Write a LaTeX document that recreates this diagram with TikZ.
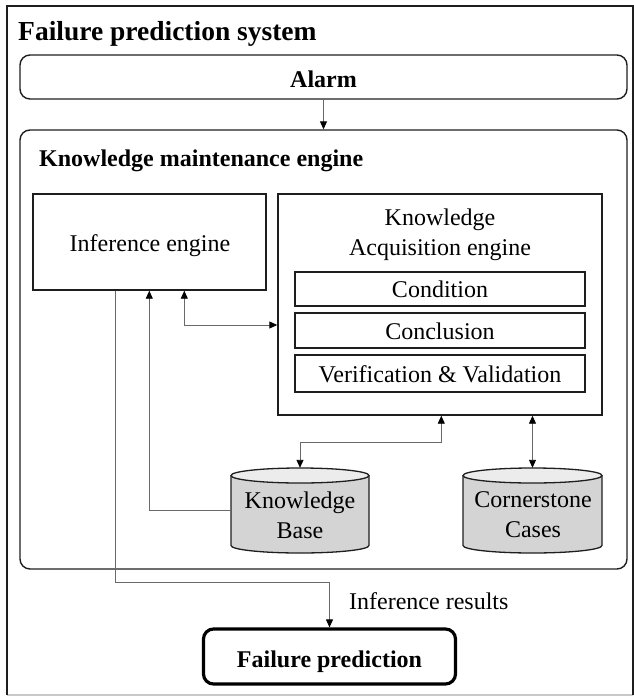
\documentclass[tikz,border=0pt]{standalone}
\usepackage{fontspec}
\setmainfont{Liberation Serif}
\usetikzlibrary{arrows.meta,calc}
\definecolor{connc}{RGB}{105,105,105}
\definecolor{edgec}{RGB}{30,30,30}
\definecolor{cylbody}{RGB}{212,212,212}
\definecolor{cyltop}{RGB}{236,236,236}
\definecolor{framebot}{RGB}{200,200,200}
\begin{document}
\begin{tikzpicture}[x=1pt,y=-1pt,
  txt/.style={font=\fontsize{24}{30}\selectfont, inner sep=0pt},
  btxt/.style={font=\bfseries\fontsize{24}{30}\selectfont, inner sep=0pt},
  rbox/.style={draw=edgec, line width=1.4pt, rounded corners=10pt, inner sep=0pt},
  sbox/.style={draw=edgec, line width=1.4pt, inner sep=0pt},
  holder/.style={inner sep=0pt},
  conn/.style={draw=connc, line width=0.9pt},
  arr/.style={-{Triangle[length=8pt,width=7pt,color=black]}},
  darr/.style={{Triangle[length=8pt,width=7pt,color=black]}-{Triangle[length=8pt,width=7pt,color=black]}},
  cyl/.style={draw=edgec, line width=1.3pt}]
\useasboundingbox (0,0) rectangle (634,697);
% outer frame
\draw[framebot, line width=1.2pt] (7,695) -- (633,695);
\draw[edgec, line width=1.8pt] (7,695) -- (7,6) -- (633,6) -- (633,695);
\node[font=\bfseries\fontsize{27.5}{32}\selectfont, inner sep=0pt, anchor=base west] (title) at (18,40) {Failure prediction system};

% Alarm
\node[rbox, minimum width=607pt, minimum height=44pt] (alarm) at (323.5,77) {};
\node[btxt, anchor=base] (alarmt) at (323.5,87) {Alarm};

% Knowledge maintenance engine
\node[rbox, minimum width=607pt, minimum height=439pt] (kme) at (323.5,349.5) {};
\node[btxt, anchor=base west] (kmet) at (39,166) {Knowledge maintenance engine};

% Inference engine
\node[sbox, minimum width=233pt, minimum height=96pt] (ie) at (149.5,242) {};
\node[txt, anchor=base] (iet) at (150,251) {Inference engine};

% Knowledge acquisition engine
\node[sbox, minimum width=324pt, minimum height=221pt] (kae) at (440,304.5) {};
\node[txt, align=center] (kaet) at (440,234.4) {Knowledge\\Acquisition engine};
\node[sbox, minimum width=290pt, minimum height=34pt] (cond) at (440,289) {};
\node[txt, anchor=base] (condt) at (440,297) {Condition};
\node[sbox, minimum width=290pt, minimum height=35pt] (concl) at (440,330.5) {};
\node[txt, anchor=base] (conclt) at (440,339) {Conclusion};
\node[sbox, minimum width=290pt, minimum height=37pt] (vv) at (440,373.5) {};
\node[txt, anchor=base] (vvt) at (440,382) {Verification \& Validation};

% Cylinders
\filldraw[cyl, fill=cylbody] (231,475.5) -- (231,545.5) arc[start angle=180, end angle=0, x radius=69, y radius=7.5] -- (369,475.5);
\filldraw[cyl, fill=cyltop] (300,475.5) ellipse[x radius=69, y radius=7.5];
\node[holder, minimum width=138pt, minimum height=85pt] (kb) at (300,510.5) {};
\node[txt, align=center] (kbt) at (300,515) {Knowledge\\Base};

\filldraw[cyl, fill=cylbody] (463,475.5) -- (463,545.5) arc[start angle=180, end angle=0, x radius=69.5, y radius=7.5] -- (602,475.5);
\filldraw[cyl, fill=cyltop] (532.5,475.5) ellipse[x radius=69.5, y radius=7.5];
\node[holder, minimum width=139pt, minimum height=85pt] (cc) at (532.5,510.5) {};
\node[txt, align=center] (cct) at (533,515) {Cornerstone\\Cases};

% Failure prediction
\node[draw=black, line width=3.2pt, rounded corners=10pt, inner sep=0pt, minimum width=252pt, minimum height=55pt] (fp) at (329.5,656.5) {};
\node[btxt, anchor=base] (fpt) at (329.5,667) {Failure prediction};
\node[txt, anchor=base west] (irt) at (349,609) {Inference results};

% Connectors
\draw[conn, arr] (alarm.south) -- (kme.north);
\draw[conn, arr] ($(ie.south west)+(83,0)$) -- ++(0,292) -| (fp.north);
\draw[conn, arr] (kb.west) -| ($(ie.south west)+(117,0)$);
\draw[conn, darr] ($(ie.south west)+(152,0)$) |- ($(kae.west)+(0,20.5)$);
\draw[conn, darr] ($(kae.south west)+(164,0)$) -- ++(0,27) -| (kb.north);
\draw[conn, darr] (kae.south -| cc.north) -- (cc.north);
\end{tikzpicture}
\end{document}
